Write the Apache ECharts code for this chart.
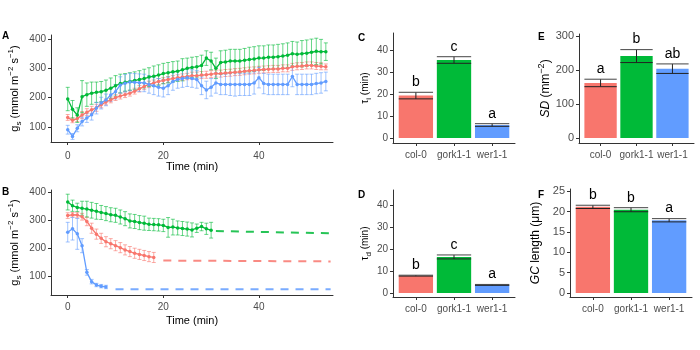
<!DOCTYPE html>
<html>
<head>
<meta charset="utf-8">
<script src="https://cdn.jsdelivr.net/npm/echarts@6/dist/echarts.min.js"></script>
<style>
  html, body { margin: 0; background: #fff; }
  #chart { width: 700px; height: 350px; }
</style>
</head>
<body>
<div id="chart"></div>
<script>
// ---- data ----
const genotypes = ['col-0', 'gork1-1', 'wer1-1'];

// A: opening, gs (mmol m-2 s-1) vs time (min)
const timeA = [0,1,2,3,4,5,6,7,8,9,10,11,12,13,14,15,16,17,18,19,20,21,22,23,24,25,26,27,28,29,30,31,32,33,34,35,36,37,38,39,40,41,42,43,44,45,46,47,48,49,50,51,52,53,54];
const redA = [132,122,128,140,150,158,165,175,185,192,200,205,210,215,222,230,238,245,250,255,258,262,265,268,270,272,275,275,277,278,280,282,282,284,285,287,288,290,292,293,295,296,297,298,298,300,300,305,307,308,310,310,308,307,305];
const errRedA = [10,8,10,12,12,12,12,10,10,10,10,10,10,10,10,11,11,11,10,10,10,10,10,10,11,11,12,12,12,12,12,12,12,12,12,12,12,12,12,12,12,12,12,12,12,12,12,12,12,12,12,12,12,12,10];
const greenA = [195,160,140,203,210,215,218,220,225,232,240,248,252,255,258,262,265,270,273,277,282,285,288,290,295,300,303,305,310,335,325,300,320,322,325,325,325,328,330,332,335,335,338,338,340,342,345,350,348,350,352,355,358,357,357];
const errGreenA = [40,30,25,55,40,38,35,35,35,35,35,32,30,30,30,30,32,32,35,35,35,35,35,35,38,35,35,35,35,25,30,35,40,40,40,40,40,40,42,42,42,42,42,42,42,42,42,42,42,45,45,45,45,42,30];
const blueA = [90,67,95,118,130,141,164,181,192,209,220,243,249,253,252,251,250,245,240,235,232,240,255,262,265,268,265,262,240,226,235,250,245,245,245,245,245,245,245,250,268,248,245,245,245,245,245,272,245,245,245,245,248,250,255];
const errBlueA = [15,10,12,15,15,18,20,20,20,22,25,28,30,30,30,30,30,30,30,30,30,30,30,30,30,30,30,30,30,30,30,35,35,35,38,40,38,38,38,38,35,35,35,35,35,35,35,35,35,35,35,35,35,35,32];

// B: closure, gs vs time, plus dashed fitted tails
const timeRedB = [0,1,2,3,4,5,6,7,8,9,10,11,12,13,14,15,16,17,18];
const redB = [317,320,319,313,296,272,251,236,224,217,210,203,195,189,183,179,175,171,168];
const errRedB = [10,8,10,12,15,18,18,18,18,18,18,18,18,18,18,18,18,18,18];
const timeGreenB = [0,1,2,3,4,5,6,7,8,9,10,11,12,13,14,15,16,17,18,19,20,21,22,23,24,25,26,27,28,29,30];
const greenB = [365,352,346,343,340,336,332,328,324,320,318,312,306,298,296,292,290,286,285,284,282,275,276,273,271,269,266,272,278,270,265];
const errGreenB = [28,20,15,25,28,28,28,25,25,25,25,25,25,25,25,25,25,22,22,22,22,35,28,25,25,25,25,15,15,20,28];
const timeBlueB = [0,1,2,3,4,5,6,7,8];
const blueB = [258,270,252,210,115,82,70,66,63];
const errBlueB = [35,40,55,25,10,8,6,6,6];
const fitRedT = [20, 55], fitRed = [157, 154];
const fitGreenT = [31, 55], fitGreen = [262, 254];
const fitBlueT = [10, 55], fitBlue = [55, 55];

// C-F: bar panels (mean, error, letters)
const tauI = [19.3, 35.5, 5.9], tauIErr = [1.5, 1.5, 0.6], lettersC = ['b', 'c', 'a'];
const tauD = [7.9, 16.4, 3.7], tauDErr = [0.2, 0.9, 0.2], lettersD = ['b', 'c', 'a'];
const sd = [162, 241, 204], sdErr = [11, 19, 14], lettersE = ['a', 'b', 'ab'];
const gcLen = [21.2, 20.5, 17.9], gcErr = [0.4, 0.5, 0.4], lettersF = ['b', 'b', 'a'];

// tick labels
const timeTicks = [0, 20, 40];
const gsTicks = [100, 200, 300, 400];
const tauTicks = [0, 10, 20, 30, 40];
const sdTicks = [0, 100, 200, 300];
const gcTicks = [0, 5, 10, 15, 20, 25];
const barPos = [1, 2, 3];

// ---- styling ----
const RED = '#F8766D', GREEN = '#00BA38', BLUE = '#619CFF';
const COLORS = [RED, GREEN, BLUE];
const FONT = 'Liberation Sans';

const pts = (xs, ys) => xs.map((x, i) => [x, ys[i]]);
const withErr = (xs, ys, es) => xs.map((x, i) => [x, ys[i], es[i]]);

function lineErr(color) {
  return function (params, api) {
    const x = api.value(0), m = api.value(1), e = api.value(2);
    const lo = api.coord([x, m - e]), hi = api.coord([x, m + e]);
    const w = 2;
    const st = { stroke: color, lineWidth: 0.8, opacity: 0.75 };
    return {
      type: 'group',
      children: [
        { type: 'line', shape: { x1: lo[0], y1: lo[1], x2: hi[0], y2: hi[1] }, style: st },
        { type: 'line', shape: { x1: lo[0] - w, y1: lo[1], x2: lo[0] + w, y2: lo[1] }, style: st },
        { type: 'line', shape: { x1: hi[0] - w, y1: hi[1], x2: hi[0] + w, y2: hi[1] }, style: st }
      ]
    };
  };
}

function barErr(letters) {
  return function (params, api) {
    const x = api.value(0), m = api.value(1), e = api.value(2);
    const lo = api.coord([x, m - e]), hi = api.coord([x, m + e]);
    const w = api.size([0.9, 0])[0] / 2;
    const st = { stroke: '#222', lineWidth: 1 };
    return {
      type: 'group',
      children: [
        { type: 'line', shape: { x1: lo[0], y1: lo[1], x2: hi[0], y2: hi[1] }, style: st },
        { type: 'line', shape: { x1: lo[0] - w, y1: lo[1], x2: lo[0] + w, y2: lo[1] }, style: st },
        { type: 'line', shape: { x1: hi[0] - w, y1: hi[1], x2: hi[0] + w, y2: hi[1] }, style: { stroke: '#444', lineWidth: 1 } },
        { type: 'text', style: { text: letters[params.dataIndex], x: hi[0], y: hi[1] - 10,
            fill: '#000', fontSize: 14, fontFamily: FONT, align: 'center', verticalAlign: 'middle' } }
      ]
    };
  };
}

const grids = [
  { left: 51, top: 35, width: 282, height: 107 },   // A
  { left: 51, top: 190, width: 282, height: 105 },  // B
  { left: 393, top: 33, width: 122, height: 110 },  // C
  { left: 393, top: 190, width: 122, height: 107 }, // D
  { left: 579, top: 34, width: 115, height: 109 },  // E
  { left: 570, top: 189, width: 122, height: 108 }  // F
];

function axisBase(ticks, fontSize, margin) {
  return {
    type: 'value',
    splitLine: { show: false },
    axisLine: { show: true, onZero: false, lineStyle: { color: '#333', width: 1 } },
    axisTick: { show: true, length: 3, customValues: ticks, lineStyle: { color: '#333' } },
    axisLabel: { customValues: ticks, color: '#4d4d4d', fontSize: fontSize, fontFamily: FONT, margin: margin }
  };
}

function richFor(size) {
  const small = Math.round(size * 0.75);
  return {
    n: { fontSize: size, fontFamily: FONT, color: '#000', lineHeight: size + 5 },
    i: { fontSize: size, fontFamily: FONT, color: '#000', fontStyle: 'italic', lineHeight: size + 5 },
    sub: { fontSize: small, fontFamily: FONT, color: '#000', verticalAlign: 'bottom' },
    sup: { fontSize: small, fontFamily: FONT, color: '#000', verticalAlign: 'top' }
  };
}
const gsName = '{n|g}{sub|s}{n| (mmol m}{sup|−2}{n| s}{sup|−1}{n|)}';

const xAxes = [
  Object.assign(axisBase(timeTicks, 10, 9), { gridIndex: 0, min: -3.5, max: 55.5, name: 'Time (min)',
    nameLocation: 'middle', nameGap: 18, nameTextStyle: { fontSize: 11, fontFamily: FONT, color: '#000' } }),
  Object.assign(axisBase(timeTicks, 10, 7), { gridIndex: 1, min: -3.5, max: 55.5, name: 'Time (min)',
    nameLocation: 'middle', nameGap: 20, nameTextStyle: { fontSize: 11, fontFamily: FONT, color: '#000' } })
];
[2, 3, 4, 5].forEach(g => {
  const ax = axisBase(barPos, 10, 7);
  ax.axisLabel.formatter = v => genotypes[Math.round(v) - 1];
  xAxes.push(Object.assign(ax, { gridIndex: g, min: 0.4, max: 3.6 }));
});

function yAx(g, ticks, min, max, fs, name, gap, nameSize) {
  return Object.assign(axisBase(ticks, fs, 5), {
    gridIndex: g, min: min, max: max, name: name, nameLocation: 'middle', nameRotate: 90, nameGap: gap,
    nameTextStyle: { rich: richFor(nameSize) }
  });
}
const yAxes = [
  yAx(0, gsTicks, 48, 414, 10, gsName, 28, 11),
  yAx(1, gsTicks, 34.5, 408, 10, gsName, 28, 11),
  yAx(2, tauTicks, -2.3, 47.8, 10, '{n|τ}{sub|i}{n| (min)}', 18, 10),
  yAx(3, tauTicks, -1.8, 46.8, 10, '{n|τ}{sub|d}{n| (min)}', 18, 10),
  yAx(4, sdTicks, -14.7, 306, 11, '{i|SD}{n| (mm}{sup|−2}{n|)}', 22, 12),
  yAx(5, gcTicks, -1, 25.6, 11, '{i|GC}{n| length (μm)}', 26, 12)
];

const series = [];
function addLine(g, xs, ys, es, color) {
  series.push({ type: 'custom', xAxisIndex: g, yAxisIndex: g, data: withErr(xs, ys, es),
    encode: { x: 0, y: 1 }, renderItem: lineErr(color), z: 2 });
  series.push({ type: 'line', xAxisIndex: g, yAxisIndex: g, data: pts(xs, ys), symbol: 'circle',
    symbolSize: 3.5, showSymbol: true, lineStyle: { color: color, width: 1.3 }, itemStyle: { color: color }, z: 3 });
}
function addFit(xs, ys, color) {
  series.push({ type: 'line', xAxisIndex: 1, yAxisIndex: 1, data: pts(xs, ys), showSymbol: false,
    lineStyle: { color: color, width: 2, type: [8, 7], opacity: 0.85 } });
}
addLine(0, timeA, redA, errRedA, RED);
addLine(0, timeA, greenA, errGreenA, GREEN);
addLine(0, timeA, blueA, errBlueA, BLUE);
addLine(1, timeRedB, redB, errRedB, RED);
addLine(1, timeGreenB, greenB, errGreenB, GREEN);
addLine(1, timeBlueB, blueB, errBlueB, BLUE);
addFit(fitRedT, fitRed, RED);
addFit(fitGreenT, fitGreen, GREEN);
addFit(fitBlueT, fitBlue, BLUE);

function addBars(g, means, errs, letters) {
  const bw = grids[g].width / 3.2 * 0.9;
  series.push({ type: 'bar', xAxisIndex: g, yAxisIndex: g, barWidth: bw,
    data: means.map((v, i) => ({ value: [barPos[i], v], itemStyle: { color: COLORS[i] } })) });
  series.push({ type: 'custom', xAxisIndex: g, yAxisIndex: g, encode: { x: 0, y: 1 },
    data: means.map((v, i) => [barPos[i], v, errs[i]]), renderItem: barErr(letters), z: 5 });
}
addBars(2, tauI, tauIErr, lettersC);
addBars(3, tauD, tauDErr, lettersD);
addBars(4, sd, sdErr, lettersE);
addBars(5, gcLen, gcErr, lettersF);

const panel = (t, l, tp) => ({ text: t, left: l, top: tp, padding: 0,
  textStyle: { fontSize: 10, fontWeight: 'bold', fontFamily: FONT, color: '#000' } });

const chart = echarts.init(document.getElementById('chart'));
chart.setOption({
  animation: false,
  backgroundColor: '#fff',
  title: [panel('A', 2, 31), panel('B', 2, 187), panel('C', 358, 33), panel('D', 358, 190),
          panel('E', 538, 32), panel('F', 538, 190)],
  grid: grids,
  xAxis: xAxes,
  yAxis: yAxes,
  series: series
});
</script>
</body>
</html>
